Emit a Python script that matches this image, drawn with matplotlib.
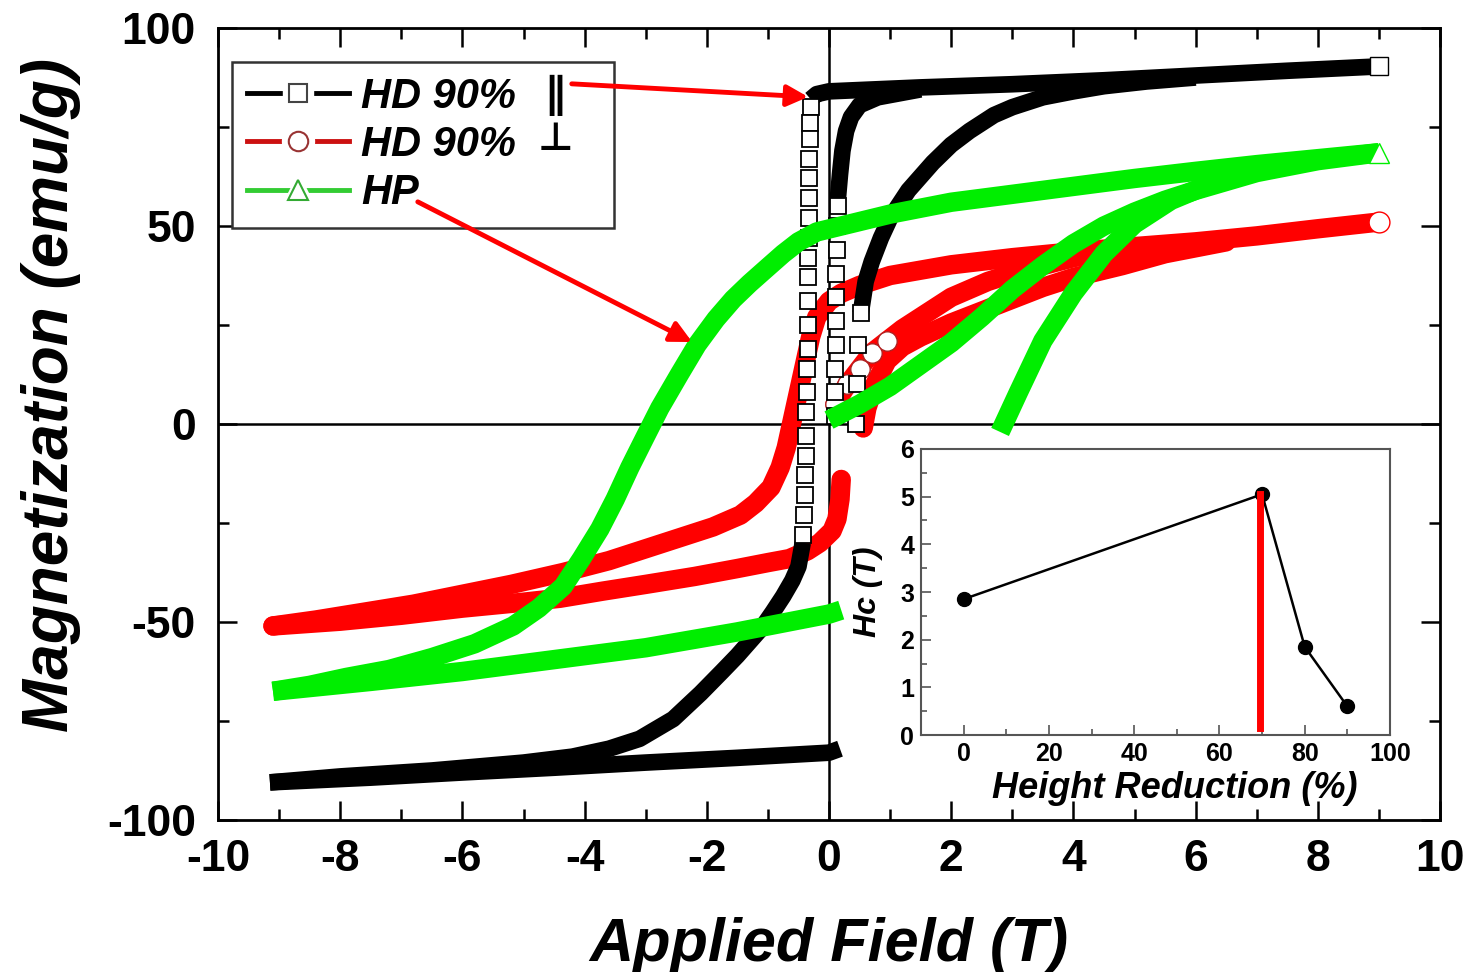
import matplotlib.pyplot as plt
from matplotlib.lines import Line2D
from matplotlib.ticker import MultipleLocator

plt.rcParams['font.family'] = ['Liberation Sans', 'DejaVu Sans']
plt.rcParams['font.weight'] = 'bold'
plt.rcParams['axes.unicode_minus'] = False

# ---- hysteresis data (field in T, M in emu/g) ----
# HD 90% parallel (black)
par_down_x = [9.0, 7.5, 6.0, 4.5, 3.0, 1.5, 0.0, -0.2, -0.3]
par_down_y = [90.3, 89.2, 88.0, 86.8, 85.8, 85.0, 84.0, 83.3, 82.0]
par_col_x = [-0.3, -0.31, -0.31, -0.32, -0.32, -0.33, -0.33, -0.33, -0.34, -0.34, -0.34,
             -0.35, -0.35, -0.36, -0.36, -0.37, -0.38, -0.38, -0.39, -0.4, -0.41, -0.43]
par_col_y = [80, 76, 72, 67, 62, 57, 52, 47, 42, 37, 31,
             25, 19, 14, 8, 3, -3, -8, -13, -18, -23, -28]
par_tail_x = [-0.43, -0.5, -0.6, -0.75, -0.92, -1.1, -1.3, -1.5, -1.75, -2.1, -2.55,
              -3.1, -3.6, -4.2, -5.0, -6.5, -8.0, -9.15]
par_tail_y = [-30, -36, -39.5, -43.5, -47.5, -51.5, -55, -58.5, -62.5, -68, -74.5,
              -79.5, -82, -84, -85.5, -87.5, -89, -90.5]
par_up_x = [-9.15, -7.5, -6.0, -4.5, -3.0, -1.5, 0.0, 0.18]
par_up_y = [-90.5, -89.3, -88.0, -86.8, -85.5, -84.3, -83.0, -82.0]
par_jump_x = [0.1, 0.1, 0.1, 0.11, 0.11, 0.12, 0.12, 0.13, 0.13, 0.14]
par_jump_y = [2, 8, 14, 20, 26, 32, 38, 44, 50, 55]
par_bend_x = [0.14, 0.18, 0.22, 0.28, 0.36, 0.5, 0.8, 1.5]
par_bend_y = [56, 63, 69, 74, 77.5, 80.5, 82.5, 84.5]
par_rise_x = [0.45, 0.46, 0.48, 0.52, 0.6, 0.7, 0.85, 1.0, 1.3, 1.7, 2.0, 2.3, 2.7,
              3.0, 3.5, 4.0, 4.5, 5.2, 6.0]
par_rise_y = [0, 10, 20, 28, 36, 41, 47, 52, 59, 66, 70.5, 74, 78,
              80, 82.5, 84, 85.3, 86.5, 87.5]

# HD 90% perpendicular (red)
perp_down_x = [9.0, 8.0, 7.0, 6.0, 5.0, 4.0, 3.0, 2.0, 1.0, 0.5, 0.2, 0.0, -0.2, -0.3,
               -0.4, -0.5, -0.6, -0.7, -0.8, -0.95, -1.2, -1.45, -1.9, -2.3, -3.0, -3.6,
               -4.35, -5.2, -6.0, -6.8, -7.6, -8.4, -9.1]
perp_down_y = [51, 49.3, 47.5, 46, 44.8, 43.5, 42, 40.2, 37.5, 35, 33, 31, 27, 22,
               15, 8, 1, -6, -11, -16, -20, -23, -26, -28, -31.5, -34.5,
               -37.5, -40.5, -43, -45.5, -47.5, -49.5, -51]
perp_up_x = [-9.1, -8.0, -7.0, -6.0, -5.0, -4.4, -3.7, -3.0, -2.2, -1.5, -1.0, -0.65,
             -0.35, -0.15, 0.05, 0.13, 0.18, 0.2]
perp_up_y = [-51, -49.8, -48.3, -46.5, -45, -44, -42.2, -40.5, -38.5, -36.5, -35, -34,
             -32, -30, -27, -24, -19, -14]
perp_rise_x = [0.56, 0.62, 0.75, 0.95, 1.2, 1.5, 2.0, 2.5, 3.0, 3.5, 4.0, 4.8, 5.5, 6.5]
perp_rise_y = [-1, 4, 10, 16, 19.5, 22, 25.5, 28.5, 31.5, 34.5, 37, 40, 43, 46]
perp_mid_x = [0.1, 0.3, 0.5, 0.7, 0.95, 1.2, 1.5, 2.0, 2.6, 3.0, 3.5, 4.0, 4.5, 5.5]
perp_mid_y = [5, 10, 14, 18, 21, 24, 27, 32, 36, 38, 40, 42, 43.5, 45]

# HP (green)
hp_down_x = [9.0, 8.0, 7.0, 6.0, 5.0, 4.0, 3.0, 2.0, 1.0, 0.2, -0.2, -0.5, -0.75,
             -1.0, -1.3, -1.57, -1.85, -2.16, -2.45, -2.77, -3.0, -3.26, -3.5, -3.75,
             -4.05, -4.35, -4.75, -5.17, -5.8, -6.5, -7.2, -7.9, -8.5, -9.1]
hp_down_y = [68.5, 67, 65.5, 63.8, 62, 60, 58, 56, 53, 50, 48.5, 46, 43,
             39.6, 35.5, 31.5, 26.5, 20, 12.5, 4, -3, -11, -19, -26.5,
             -34, -41, -46.5, -51, -55.5, -59, -62, -64, -66, -67.5]
hp_up_x = [-9.1, -7.5, -6.0, -4.5, -3.0, -1.5, 0.0, 0.2]
hp_up_y = [-67.5, -65, -62.5, -59.5, -56.5, -52.5, -48, -47]
hp_rise_x = [0.0, 0.5, 1.0, 1.5, 2.0, 2.5, 3.0, 3.5, 4.0, 4.5, 5.0, 5.5, 6.0, 7.0, 8.0, 9.0]
hp_rise_y = [1, 5, 9.5, 15, 20.5, 27, 34, 40, 45.5, 50, 53.5, 56.5, 59, 63.5, 66.5, 68.5]
hp_branch_x = [2.8, 3.1, 3.5, 4.0, 4.5, 5.0, 5.6, 6.3, 7.0]
hp_branch_y = [-2, 8, 21, 33, 43, 50.5, 56.5, 61, 64]

# inset: coercivity vs height reduction
reduction = [0, 70, 80, 90]
hc = [2.85, 5.05, 1.85, 0.6]

BLACK, RED, GREEN = 'black', '#ff0000', '#00ee00'

fig = plt.figure(figsize=(14.73, 9.72), dpi=100)
ax = fig.add_axes([218 / 1473, 1 - 820 / 972, 1222 / 1473, 792 / 972])

ax.axhline(0, color='black', lw=1.8, zorder=1)
ax.axvline(0, color='black', lw=1.8, zorder=1)

# red loop
for xs, ys in [(perp_down_x, perp_down_y), (perp_up_x, perp_up_y),
               (perp_rise_x, perp_rise_y), (perp_mid_x, perp_mid_y)]:
    ax.plot(xs, ys, color=RED, lw=14, solid_capstyle='round', solid_joinstyle='round', zorder=2)
ax.plot(perp_mid_x[:5], perp_mid_y[:5], ls='none', marker='o', ms=14,
        mfc='white', mec='#b02020', mew=1, zorder=2.1)
ax.plot([9.0], [51], ls='none', marker='o', ms=15, mfc='white', mec=RED, zorder=2.2)

# black loop
for xs, ys in [(par_down_x, par_down_y), (par_tail_x, par_tail_y), (par_up_x, par_up_y),
               (par_bend_x, par_bend_y), (par_rise_x[3:], par_rise_y[3:])]:
    ax.plot(xs, ys, color=BLACK, lw=12, solid_capstyle='butt', solid_joinstyle='round', zorder=3)
for xs, ys in [(par_col_x, par_col_y), (par_jump_x, par_jump_y),
               (par_rise_x[:4], par_rise_y[:4])]:
    ax.plot(xs, ys, ls='none', marker='s', ms=12, mfc='white', mec=BLACK,
            mew=1.3, zorder=3.1)
ax.plot([9.0], [90.3], ls='none', marker='s', ms=13, mfc='white', mec=BLACK, zorder=3.2)

# green loop
for xs, ys in [(hp_down_x, hp_down_y), (hp_up_x, hp_up_y),
               (hp_rise_x, hp_rise_y), (hp_branch_x, hp_branch_y)]:
    ax.plot(xs, ys, color=GREEN, lw=14, solid_capstyle='butt', solid_joinstyle='round', zorder=4)
ax.plot([9.0], [68.5], ls='none', marker='^', ms=15, mfc='white', mec=GREEN, zorder=4.2)

ax.set_xlim(-10, 10)
ax.set_ylim(-100, 100)
ax.xaxis.set_major_locator(MultipleLocator(2))
ax.xaxis.set_minor_locator(MultipleLocator(1))
ax.yaxis.set_major_locator(MultipleLocator(50))
ax.yaxis.set_minor_locator(MultipleLocator(25))
ax.tick_params(which='both', direction='in', top=True, right=True, width=1.8)
ax.tick_params(which='major', length=14, labelsize=32)
ax.tick_params(axis='x', which='major', pad=14)
ax.tick_params(axis='y', which='major', pad=16)
ax.tick_params(which='minor', length=8)
for s in ax.spines.values():
    s.set_linewidth(2)
ax.set_xlabel('Applied Field (T)', fontsize=44, fontstyle='italic', fontweight='bold', labelpad=26)
ax.set_ylabel('Magnetization (emu/g)', fontsize=46, fontstyle='italic', fontweight='bold')
ax.yaxis.set_label_coords(-0.112, 0.537)

# legend: line broken around a white marker, as in the original
def handle(col, lcol, mk, ms):
    gap = Line2D([], [], color=lcol, lw=3.5, marker=mk, ms=ms + 9, mfc='white', mec='white')
    mark = Line2D([], [], ls='none', marker=mk, ms=ms, mfc='white', mec=col, mew=1.5)
    return (gap, mark)

handles = [handle('#444444', BLACK, 's', 13), handle('#993333', '#cc1111', 'o', 14),
           handle('#33aa33', '#33cc33', '^', 15)]
leg = ax.legend(handles, ['HD 90%', 'HD 90%', 'HP'], loc='upper left',
                bbox_to_anchor=(0.0115, 0.76, 0.3126, 0.197), mode='expand',
                borderaxespad=0, fancybox=False, framealpha=1, edgecolor='#333333',
                handlelength=2.45, handletextpad=0.3, labelspacing=0.2, borderpad=0.35,
                prop={'size': 30, 'weight': 'bold', 'style': 'italic'})
leg.get_frame().set_linewidth(1.8)
leg.set_zorder(6)
ax.text(0.2758, 0.9154, '\u2225', transform=ax.transAxes, fontsize=30, family='DejaVu Sans',
        weight='bold', ha='center', va='center', zorder=7)
ax.text(0.2758, 0.846, '\u22a5', transform=ax.transAxes, fontsize=28, family='DejaVu Sans',
        weight='bold', ha='center', va='baseline', zorder=7)

arrow = dict(arrowstyle='-|>', color=RED, lw=3.5, mutation_scale=32, shrinkA=0, shrinkB=0)
ax.annotate('', xy=(-0.34, 82.6), xytext=(-4.21, 85.9), arrowprops=arrow, zorder=8)
ax.annotate('', xy=(-2.24, 20.7), xytext=(-6.73, 56.1), arrowprops=arrow, zorder=8)

# inset
ins = fig.add_axes([921 / 1473, 1 - 735 / 972, 469 / 1473, 286 / 972])
ins.plot(reduction, hc, color='black', lw=1.8, marker='o', ms=10, zorder=3)
ins.plot([69.5, 69.5], [0.15, 5.05], color=RED, lw=5, zorder=4)
ins.set_xlim(-10, 100)
ins.set_ylim(0, 6)
ins.xaxis.set_major_locator(MultipleLocator(20))
ins.xaxis.set_minor_locator(MultipleLocator(10))
ins.yaxis.set_major_locator(MultipleLocator(1))
ins.yaxis.set_minor_locator(MultipleLocator(0.5))
ins.tick_params(which='both', direction='in', width=1.2, color='#555555')
ins.tick_params(which='major', length=7, labelsize=18, pad=5)
ins.tick_params(which='minor', length=4)
for s in ins.spines.values():
    s.set_linewidth(1.5)
    s.set_color('#555555')
ins.set_xlabel('Height Reduction (%)', fontsize=26, fontstyle='italic', fontweight='bold')
ins.xaxis.set_label_coords(0.542, -0.125)
ins.set_ylabel('Hc (T)', fontsize=23, fontstyle='italic', fontweight='bold', labelpad=12)

fig.savefig('out.png', dpi=100)
